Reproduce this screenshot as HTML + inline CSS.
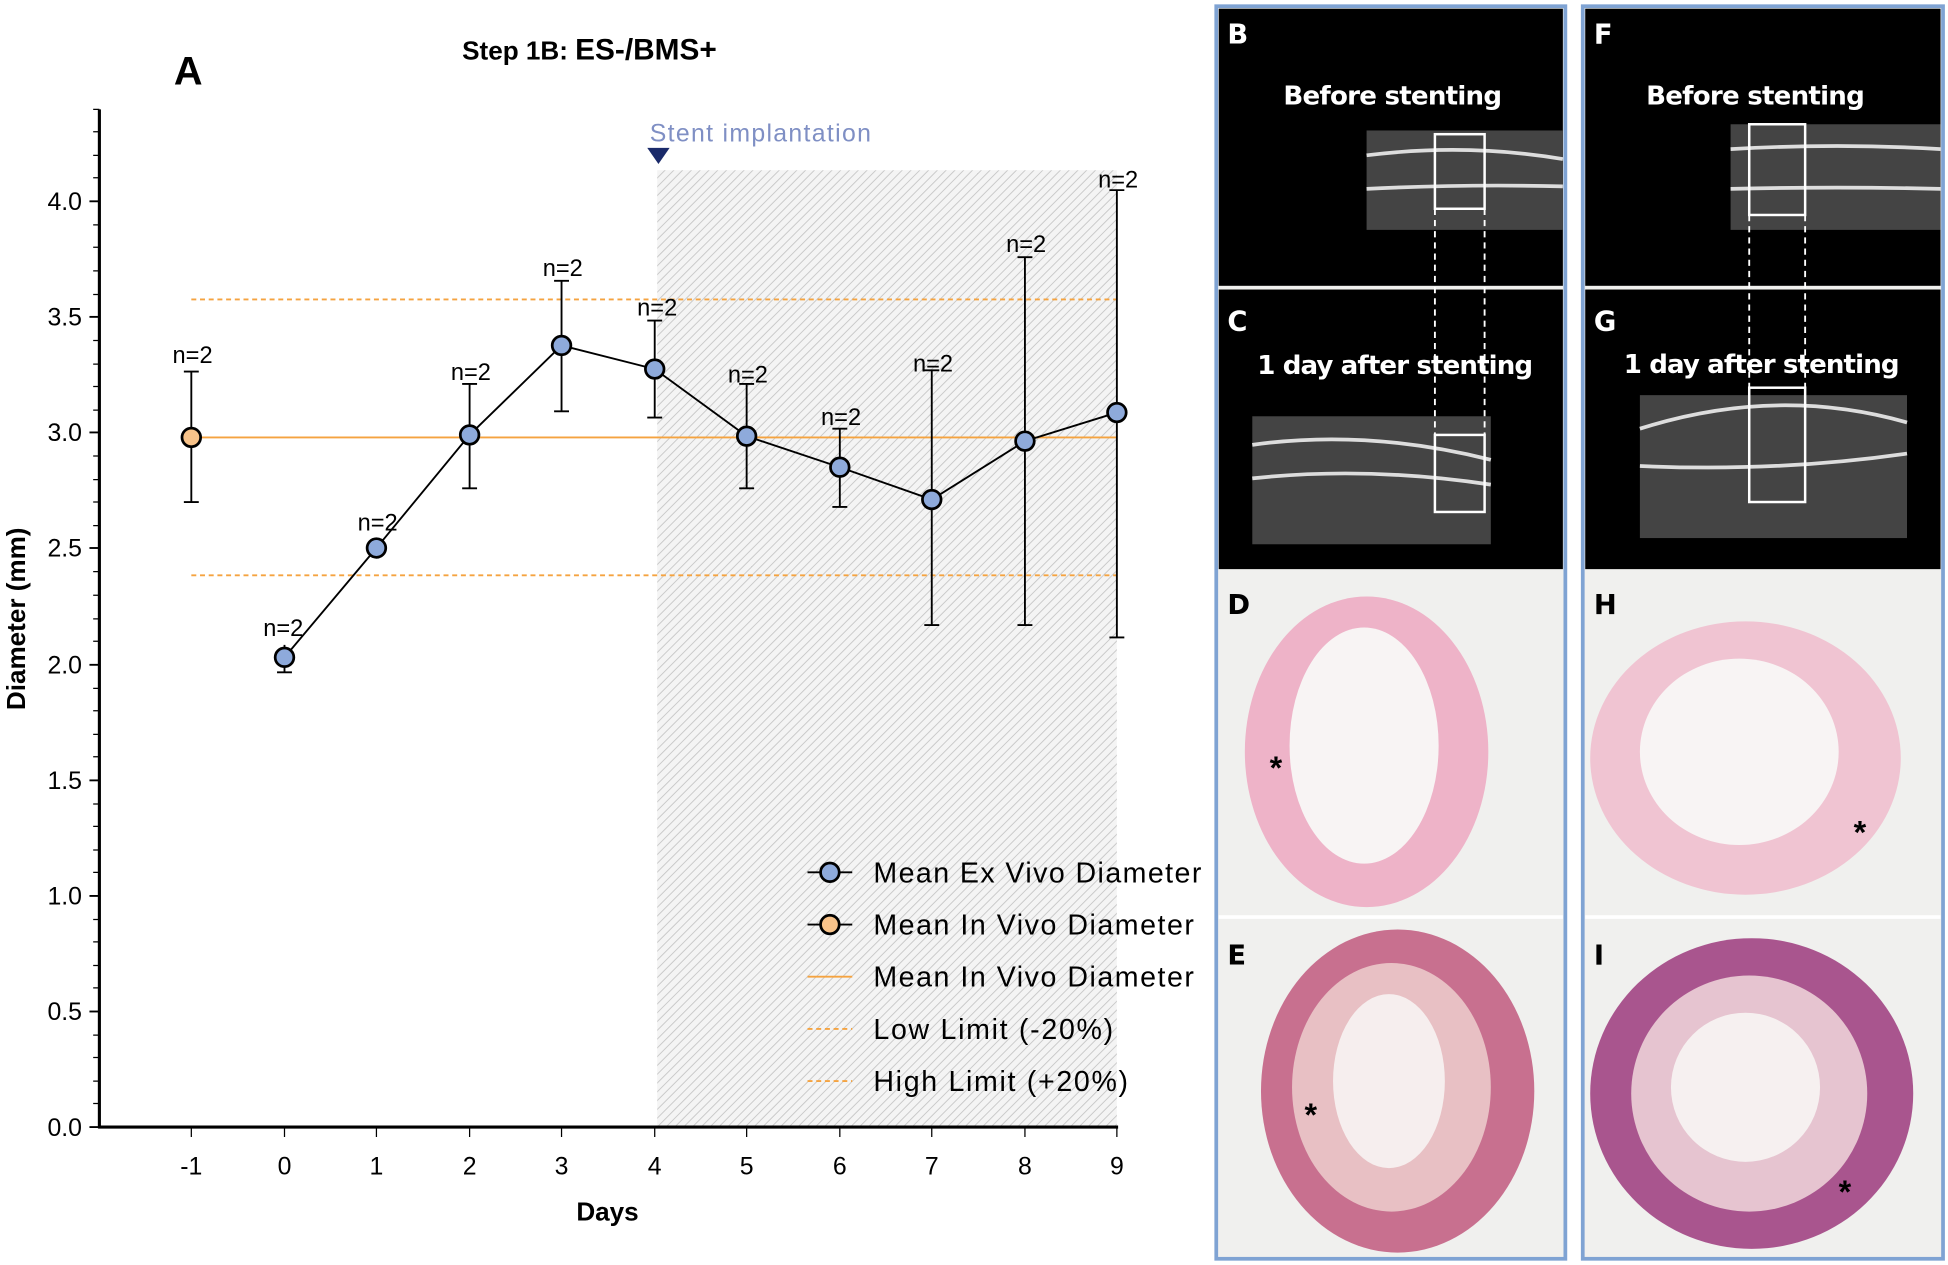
<!DOCTYPE html>
<html><head><meta charset="utf-8"><style>html,body{margin:0;padding:0;background:#fff}svg{display:block}</style></head>
<body>
<svg width="1948" height="1265" viewBox="0 0 1568 1018" preserveAspectRatio="none" xmlns="http://www.w3.org/2000/svg" font-family="Liberation Sans, sans-serif">
<defs>
<pattern id="h" width="5" height="5" patternUnits="userSpaceOnUse" patternTransform="rotate(45)">
<rect width="5" height="5" fill="#f4f4f4"/><line x1="0" y1="0" x2="0" y2="5" stroke="#c8c8c8" stroke-width="1.5"/></pattern>
</defs>
<rect width="1568" height="1018" fill="#fff"/>
<text x="140" y="68" font-size="32" font-weight="bold">A</text>
<text x="372" y="48" font-size="21" font-weight="bold">Step 1B:  <tspan font-size="24">ES-/BMS+</tspan></text>
<rect x="529" y="137" width="370" height="770" fill="url(#h)"/>
<text x="523" y="114" font-size="20" fill="#7f8fc4" textLength="178">Stent implantation</text>
<polygon points="521,119 539,119 530,132" fill="#1a2a6a"/>
<g stroke="#000" stroke-width="2.5" fill="none">
<line x1="80" y1="88" x2="80" y2="908"/><line x1="79" y1="907" x2="900" y2="907"/>
</g>
<g stroke="#000" stroke-width="1.5">
<line x1="72" y1="907" x2="80" y2="907"/><line x1="72" y1="814" x2="80" y2="814"/><line x1="72" y1="721" x2="80" y2="721"/><line x1="72" y1="628" x2="80" y2="628"/><line x1="72" y1="535" x2="80" y2="535"/><line x1="72" y1="441" x2="80" y2="441"/><line x1="72" y1="348" x2="80" y2="348"/><line x1="72" y1="255" x2="80" y2="255"/><line x1="72" y1="162" x2="80" y2="162"/>
</g>
<g stroke="#000" stroke-width="1">
<path d="M75 888H80M75 870H80M75 851H80M75 833H80M75 795H80M75 777H80M75 758H80M75 740H80M75 702H80M75 684H80M75 665H80M75 647H80M75 609H80M75 591H80M75 572H80M75 554H80M75 516H80M75 498H80M75 479H80M75 460H80M75 423H80M75 404H80M75 386H80M75 367H80M75 330H80M75 311H80M75 293H80M75 274H80M75 237H80M75 218H80M75 199H80M75 181H80M75 143H80M75 125H80M75 106H80M75 88H80"/>
<path d="M154 907V915M229 907V915M303 907V915M378 907V915M452 907V915M527 907V915M601 907V915M676 907V915M750 907V915M825 907V915M899 907V915"/>
</g>
<g font-size="20" text-anchor="end">
<text x="66" y="914">0.0</text><text x="66" y="821">0.5</text><text x="66" y="728">1.0</text><text x="66" y="635">1.5</text><text x="66" y="542">2.0</text><text x="66" y="448">2.5</text><text x="66" y="355">3.0</text><text x="66" y="262">3.5</text><text x="66" y="169">4.0</text>
</g>
<g font-size="20" text-anchor="middle">
<text x="154" y="945">-1</text><text x="229" y="945">0</text><text x="303" y="945">1</text><text x="378" y="945">2</text><text x="452" y="945">3</text><text x="527" y="945">4</text><text x="601" y="945">5</text><text x="676" y="945">6</text><text x="750" y="945">7</text><text x="825" y="945">8</text><text x="899" y="945">9</text>
</g>
<text x="489" y="982" font-size="21" font-weight="bold" text-anchor="middle">Days</text>
<text transform="translate(20,498) rotate(-90)" font-size="21" font-weight="bold" text-anchor="middle">Diameter (mm)</text>
<line x1="154" y1="352" x2="899" y2="352" stroke="#f5a340" stroke-width="1.5"/>
<line x1="154" y1="241" x2="899" y2="241" stroke="#f5a340" stroke-width="1.5" stroke-dasharray="4,3"/>
<line x1="154" y1="463" x2="899" y2="463" stroke="#f5a340" stroke-width="1.5" stroke-dasharray="4,3"/>
<g stroke="#000" stroke-width="1.5">
<path d="M154 299V404M148 299H160M148 404H160"/>
<path d="M229 519V541M223 541H235"/>
<path d="M378 309V393M372 309H384M372 393H384"/>
<path d="M452 226V331M446 226H458M446 331H458"/>
<path d="M527 258V336M521 258H533M521 336H533"/>
<path d="M601 309V393M595 309H607M595 393H607"/>
<path d="M676 345V408M670 345H682M670 408H682"/>
<path d="M750 298V503M744 298H756M744 503H756"/>
<path d="M825 207V503M819 207H831M819 503H831"/>
<path d="M899 153V513M893 153H905M893 513H905"/>
</g>
<polyline points="229,529 303,441 378,350 452,278 527,297 601,351 676,376 750,402 825,355 899,332" fill="none" stroke="#000" stroke-width="1.5"/>
<g stroke="#000" stroke-width="2.2" fill="#8eaadb">
<circle cx="229" cy="529" r="7.5"/><circle cx="303" cy="441" r="7.5"/><circle cx="378" cy="350" r="7.5"/><circle cx="452" cy="278" r="7.5"/><circle cx="527" cy="297" r="7.5"/><circle cx="601" cy="351" r="7.5"/><circle cx="676" cy="376" r="7.5"/><circle cx="750" cy="402" r="7.5"/><circle cx="825" cy="355" r="7.5"/><circle cx="899" cy="332" r="7.5"/>
<circle cx="154" cy="352" r="7.5" fill="#f8c38a"/>
</g>
<g font-size="19" text-anchor="middle">
<text x="155" y="292">n=2</text><text x="228" y="512">n=2</text><text x="304" y="427">n=2</text><text x="379" y="306">n=2</text><text x="453" y="222">n=2</text><text x="529" y="254">n=2</text><text x="602" y="308">n=2</text><text x="677" y="342">n=2</text><text x="751" y="299">n=2</text><text x="826" y="203">n=2</text><text x="900" y="151">n=2</text>
</g>
<g font-size="23">
<line x1="650" y1="702" x2="686" y2="702" stroke="#000" stroke-width="1.5"/><circle cx="668" cy="702" r="7.5" fill="#8eaadb" stroke="#000" stroke-width="2.2"/><text x="703" y="710" textLength="264">Mean Ex Vivo Diameter</text>
<line x1="650" y1="744" x2="686" y2="744" stroke="#000" stroke-width="1.5"/><circle cx="668" cy="744" r="7.5" fill="#f8c38a" stroke="#000" stroke-width="2.2"/><text x="703" y="752" textLength="258">Mean In Vivo Diameter</text>
<line x1="650" y1="786" x2="686" y2="786" stroke="#f5a340" stroke-width="1.5"/><text x="703" y="794" textLength="258">Mean In Vivo Diameter</text>
<line x1="650" y1="828" x2="686" y2="828" stroke="#f5a340" stroke-width="1.5" stroke-dasharray="4,3"/><text x="703" y="836" textLength="193">Low Limit (-20%)</text>
<line x1="650" y1="870" x2="686" y2="870" stroke="#f5a340" stroke-width="1.5" stroke-dasharray="4,3"/><text x="703" y="878" textLength="205">High Limit (+20%)</text>
</g>
<g>
<rect x="979" y="5" width="281" height="1008" fill="#f0f0ee" stroke="#7fa3d3" stroke-width="3"/>
<rect x="981" y="7" width="277" height="223" fill="#000"/>
<rect x="981" y="233" width="277" height="225" fill="#000"/>
<rect x="1100" y="105" width="158" height="80" fill="#444"/>
<path d="M1100 125 Q1180 115 1258 128" stroke="#ddd" stroke-width="3" fill="none"/><path d="M1100 152 Q1180 148 1258 150" stroke="#ddd" stroke-width="3" fill="none"/>
<rect x="1008" y="335" width="192" height="103" fill="#444"/>
<path d="M1008 358 Q1100 345 1200 370" stroke="#ddd" stroke-width="3" fill="none"/><path d="M1008 385 Q1100 375 1200 390" stroke="#ddd" stroke-width="3" fill="none"/>
<rect x="1155" y="108" width="40" height="60" fill="none" stroke="#fff" stroke-width="2"/>
<rect x="1155" y="350" width="40" height="62" fill="none" stroke="#fff" stroke-width="2"/>
<path d="M1155 168V350M1195 168V350" stroke="#fff" stroke-width="1.5" stroke-dasharray="5,4"/>
<ellipse cx="1100" cy="605" rx="98" ry="125" fill="#eeb3c8"/><ellipse cx="1098" cy="600" rx="60" ry="95" fill="#f8f4f4"/>
<ellipse cx="1125" cy="878" rx="110" ry="130" fill="#c8708f"/><ellipse cx="1120" cy="875" rx="80" ry="100" fill="#e8c0c4"/><ellipse cx="1118" cy="870" rx="45" ry="70" fill="#f6eeee"/>
<line x1="981" y1="738" x2="1258" y2="738" stroke="#fff" stroke-width="3"/>
</g>
<g>
<rect x="1274" y="5" width="290" height="1008" fill="#f0f0ee" stroke="#7fa3d3" stroke-width="3"/>
<rect x="1276" y="7" width="286" height="223" fill="#000"/>
<rect x="1276" y="233" width="286" height="225" fill="#000"/>
<rect x="1393" y="100" width="169" height="85" fill="#444"/>
<path d="M1393 120 Q1480 115 1562 120" stroke="#ddd" stroke-width="3" fill="none"/><path d="M1393 152 Q1480 150 1562 152" stroke="#ddd" stroke-width="3" fill="none"/>
<rect x="1320" y="318" width="215" height="115" fill="#444"/>
<path d="M1320 345 Q1430 310 1535 340" stroke="#ddd" stroke-width="3" fill="none"/><path d="M1320 375 Q1430 380 1535 365" stroke="#ddd" stroke-width="3" fill="none"/>
<rect x="1408" y="100" width="45" height="73" fill="none" stroke="#fff" stroke-width="2"/>
<rect x="1408" y="312" width="45" height="92" fill="none" stroke="#fff" stroke-width="2"/>
<path d="M1408 173V312M1453 173V312" stroke="#fff" stroke-width="1.5" stroke-dasharray="5,4"/>
<ellipse cx="1405" cy="610" rx="125" ry="110" fill="#f0c4d2"/><ellipse cx="1400" cy="605" rx="80" ry="75" fill="#f8f4f4"/>
<ellipse cx="1410" cy="880" rx="130" ry="125" fill="#a9558e"/><ellipse cx="1408" cy="880" rx="95" ry="95" fill="#e6c4d0"/><ellipse cx="1405" cy="875" rx="60" ry="60" fill="#f6f0f0"/>
<line x1="1276" y1="738" x2="1562" y2="738" stroke="#fff" stroke-width="3"/>
</g>
<g font-family="DejaVu Sans, sans-serif" font-weight="bold" fill="#fff" font-size="22">
<text x="988" y="35">B</text><text x="988" y="266">C</text><text x="1283" y="35">F</text><text x="1283" y="266">G</text>
</g>
<g font-family="DejaVu Sans, sans-serif" font-weight="bold" fill="#fff" font-size="21" text-anchor="middle">
<text x="1121" y="84" textLength="176">Before stenting</text><text x="1123" y="301" textLength="222">1 day after stenting</text>
<text x="1413" y="84" textLength="176">Before stenting</text><text x="1418" y="300" textLength="222">1 day after stenting</text>
</g>
<g font-family="DejaVu Sans, sans-serif" font-weight="bold" font-size="22">
<text x="988" y="494">D</text><text x="988" y="776">E</text><text x="1283" y="494">H</text><text x="1283" y="776">I</text>
</g>
<g font-size="26" font-weight="bold"><text x="1022" y="627">*</text><text x="1050" y="906">*</text><text x="1492" y="679">*</text><text x="1480" y="968">*</text></g>
</svg>
</body></html>
